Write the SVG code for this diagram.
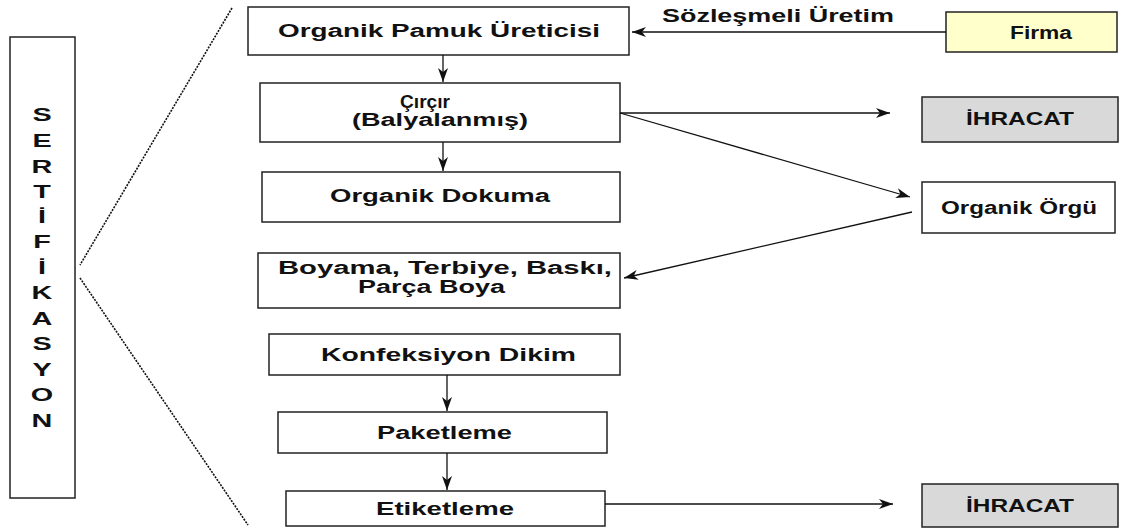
<svg xmlns="http://www.w3.org/2000/svg" width="1144" height="531" viewBox="0 0 1144 531">
<style>
.box{fill:#fff;stroke:#222;stroke-width:1.5}
.t{font-family:"Liberation Sans",Arial,sans-serif;font-weight:bold;font-size:18px;fill:#111}
.ln{stroke:#111;stroke-width:1.3;fill:none}
.dot{stroke:#111;stroke-width:1.6;stroke-dasharray:2 1.2;fill:none}
</style>
<defs>
<marker id="ah" markerUnits="userSpaceOnUse" markerWidth="16" markerHeight="12" refX="14" refY="6" orient="auto">
<path d="M0,1 L14,6 L0,11 L4,6 z" fill="#111"/>
</marker>
</defs>
<rect width="1144" height="531" fill="#fff"/>
<g id="sertifikasyon">
<rect class="box" x="10" y="37" width="65" height="461"/>
<g transform="translate(42,0) scale(1.6,1)" class="t" text-anchor="middle" font-size="18">
<text x="0" y="121">S</text>
<text x="0" y="147">E</text>
<text x="0" y="173">R</text>
<text x="0" y="198">T</text>
<text x="0" y="223">İ</text>
<text x="0" y="248">F</text>
<text x="0" y="274">İ</text>
<text x="0" y="299">K</text>
<text x="0" y="325">A</text>
<text x="0" y="350">S</text>
<text x="0" y="376">Y</text>
<text x="0" y="401">O</text>
<text x="0" y="427">N</text>
</g>
</g>
<g id="bracket">
<path class="dot" d="M232,8 L80,265"/>
<path class="dot" d="M80,278 L248,525"/>
</g>
<g id="uretici">
<rect class="box" x="248" y="7" width="381" height="48"/>
<text class="t" x="278" y="37" textLength="322" lengthAdjust="spacingAndGlyphs">Organik Pamuk Üreticisi</text>
</g>
<g id="firma">
<rect class="box" x="946" y="12" width="171" height="40" style="fill:#ffffcc"/>
<text class="t" x="1010" y="39" textLength="62" lengthAdjust="spacingAndGlyphs">Firma</text>
</g>
<g id="circir">
<rect class="box" x="260" y="83" width="360" height="59"/>
<text class="t" x="400" y="108" textLength="50" lengthAdjust="spacingAndGlyphs">Çırçır</text>
<text class="t" x="352" y="126" textLength="176" lengthAdjust="spacingAndGlyphs">(Balyalanmış)</text>
</g>
<g id="ihracat1">
<rect class="box" x="922" y="97" width="196" height="45" style="fill:#d9d9d9"/>
<text class="t" x="966" y="125" textLength="108" lengthAdjust="spacingAndGlyphs">İHRACAT</text>
</g>
<g id="dokuma">
<rect class="box" x="262" y="172" width="358" height="50"/>
<text class="t" x="330" y="202" textLength="220" lengthAdjust="spacingAndGlyphs">Organik Dokuma</text>
</g>
<g id="orgu">
<rect class="box" x="922" y="182" width="193" height="51"/>
<text class="t" x="941" y="214" textLength="156" lengthAdjust="spacingAndGlyphs">Organik Örgü</text>
</g>
<g id="boyama">
<rect class="box" x="258" y="253" width="362" height="55"/>
<text class="t" x="278" y="274" textLength="334" lengthAdjust="spacingAndGlyphs">Boyama, Terbiye, Baskı,</text>
<text class="t" x="358" y="293" textLength="147" lengthAdjust="spacingAndGlyphs">Parça Boya</text>
</g>
<g id="konfeksiyon">
<rect class="box" x="269" y="334" width="351" height="41"/>
<text class="t" x="321" y="361" textLength="255" lengthAdjust="spacingAndGlyphs">Konfeksiyon Dikim</text>
</g>
<g id="paketleme">
<rect class="box" x="278" y="412" width="329" height="41"/>
<text class="t" x="377" y="439" textLength="135" lengthAdjust="spacingAndGlyphs">Paketleme</text>
</g>
<g id="etiketleme">
<rect class="box" x="286" y="491" width="319" height="35"/>
<text class="t" x="376" y="515" textLength="138" lengthAdjust="spacingAndGlyphs">Etiketleme</text>
</g>
<g id="ihracat2">
<rect class="box" x="922" y="484" width="196" height="43" style="fill:#d9d9d9"/>
<text class="t" x="966" y="512" textLength="108" lengthAdjust="spacingAndGlyphs">İHRACAT</text>
</g>
<g id="connectors">
<path class="ln" d="M946,32 L632,32" marker-end="url(#ah)"/>
<text class="t" x="662" y="22" textLength="232" lengthAdjust="spacingAndGlyphs">Sözleşmeli Üretim</text>
<path class="ln" d="M443,55 L443,82" marker-end="url(#ah)"/>
<path class="ln" d="M443,142 L443,171" marker-end="url(#ah)"/>
<path class="ln" d="M447,375 L447,411" marker-end="url(#ah)"/>
<path class="ln" d="M447,453 L447,490" marker-end="url(#ah)"/>
<path class="ln" d="M620,113 L890,113" marker-end="url(#ah)"/>
<path class="ln" d="M620,113 L910,197" marker-end="url(#ah)"/>
<path class="ln" d="M912,212 L624,278" marker-end="url(#ah)"/>
<path class="ln" d="M605,504 L893,504" marker-end="url(#ah)"/>
</g>
</svg>
